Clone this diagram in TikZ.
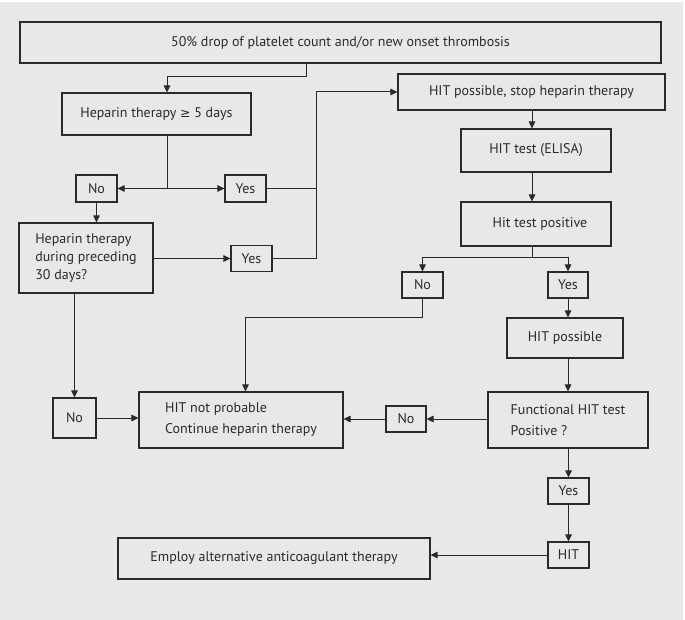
\documentclass[tikz,border=0pt]{standalone}
\usepackage{fontspec}
\setmainfont{PT Sans}
\newfontfamily\symf{DejaVu Sans}
\usetikzlibrary{arrows.meta}
\definecolor{bg}{HTML}{E8E8E8}
\definecolor{ln}{HTML}{2A2A2A}
\begin{document}
\begin{tikzpicture}[x=1pt,y=-1pt,
  box/.style={draw=ln,line width=1.1pt,rectangle,inner sep=0pt,font=\fontsize{14}{16}\selectfont,text=ln},
  multi/.style={align=left,font=\fontsize{14}{#1}\selectfont},
  conn/.style={draw=ln,line width=1pt},
  arr/.style={conn,-{Triangle[length=7pt,width=6.5pt]}}]
\useasboundingbox (0,0) rectangle (685,620);
\fill[bg] (0,2) rectangle (683,620);
% boxes
\node[box,minimum width=641,minimum height=41] (top) at (340.5,42.5) {50\% drop of platelet count and/or new onset thrombosis};
\node[box,minimum width=189,minimum height=42] (hep5) at (156.5,114) {Heparin therapy {\symf\fontsize{12.5}{14}\selectfont\char"2265} 5 days};
\node[box,minimum width=41,minimum height=27] (no1) at (96.5,188.5) {No};
\node[box,minimum width=41,minimum height=27] (yes1) at (245.5,188.5) {Yes};
\node[box,minimum width=134,minimum height=70,multi=18] (hep30) at (86,258) {Heparin therapy\\during preceding\\30 days?};
\node[box,minimum width=41,minimum height=26] (yes2) at (251.5,258.5) {Yes};
\node[box,minimum width=267,minimum height=36] (hitstop) at (531.5,92) {HIT possible, stop heparin therapy};
\node[box,minimum width=150,minimum height=43] (elisa) at (536,150.5) {HIT test (ELISA)};
\node[box,minimum width=150,minimum height=44] (pos) at (536,224) {\hspace{8pt}Hit test positive};
\node[box,minimum width=41,minimum height=26] (no2) at (422.5,285) {No};
\node[box,minimum width=40,minimum height=26] (yes3) at (568,285) {Yes};
\node[box,minimum width=116,minimum height=40] (hitposs) at (565,338) {HIT possible};
\node[box,minimum width=160,minimum height=56,multi=21] (func) at (568,420) {Functional HIT test\\Positive ?};
\node[box,minimum width=40,minimum height=26] (no3) at (406,419) {No};
\node[box,minimum width=204,minimum height=56,multi=21] (notprob) at (241,420) {HIT not probable\\Continue heparin therapy};
\node[box,minimum width=43,minimum height=40] (no4) at (74.5,418) {No};
\node[box,minimum width=41,minimum height=26] (yes4) at (568.5,491) {Yes};
\node[box,minimum width=41,minimum height=26] (hit) at (568.5,555) {HIT};
\node[box,minimum width=312,minimum height=41] (employ) at (274,558.5) {Employ alternative anticoagulant therapy\hspace{10pt}};
% junction coordinates
\coordinate (j1) at (306,77);
\coordinate (x167) at (167,0);
\coordinate (j2) at (167,188.5);
\coordinate (j3) at (316,92);
\coordinate (j4) at (532,258);
\coordinate (j5) at (245.5,317);
\coordinate (x532) at (532,0);
\coordinate (x568) at (568.5,0);
% connectors
\draw[arr] (top.south -| j1) -- (j1) -| (hep5.north -| x167);
\draw[conn] (hep5.south -| j2) -- (j2);
\draw[arr] (j2) -- (no1.east);
\draw[arr] (j2) -- (yes1.west);
\draw[conn] (yes1.east) -- (yes1.east -| j3);
\draw[arr] (yes2.east) -| (j3) -- (hitstop.west);
\draw[arr] (no1.south) -- (no1.south |- hep30.north);
\draw[arr] (hep30.east |- yes2) -- (yes2.west);
\draw[arr] (hep30.south -| no4) -- (no4.north);
\draw[arr] (no4.east) -- (no4.east -| notprob.west);
\draw[arr] (hitstop.south -| x532) -- (elisa.north -| x532);
\draw[arr] (elisa.south -| x532) -- (pos.north -| x532);
\draw[conn] (pos.south -| j4) -- (j4);
\draw[arr] (j4) -| (no2.north);
\draw[arr] (j4) -| (yes3.north);
\draw[arr] (no2.south) |- (j5) -- (j5 |- notprob.north);
\draw[arr] (yes3.south) -- (yes3.south |- hitposs.north);
\draw[arr] (hitposs.south -| yes3) -- (func.north -| yes3);
\draw[arr] (func.west |- no3) -- (no3.east);
\draw[arr] (no3.west) -- (no3.west -| notprob.east);
\draw[arr] (func.south -| x568) -- (yes4.north);
\draw[arr] (yes4.south) -- (hit.north);
\draw[arr] (hit.west) -- (hit.west -| employ.east);
\end{tikzpicture}
\end{document}
